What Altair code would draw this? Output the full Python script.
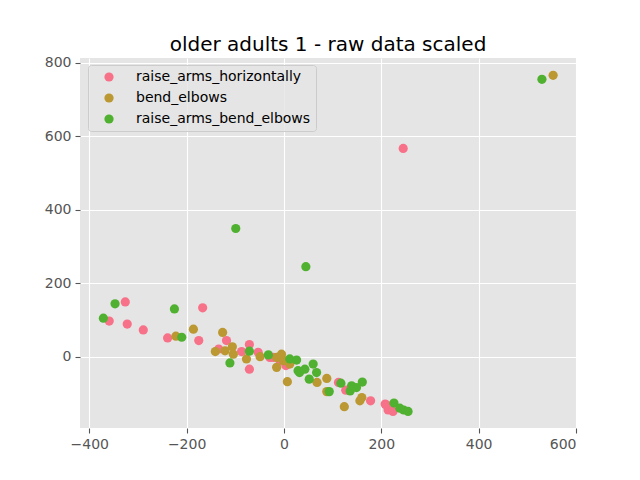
import pandas as pd
import altair as alt

# values
pink_x = [245, -359, -326, -322, -289, -239, -167, -175, -118, -134, -87, -71, -71, -53,
          -29, -22, -8, 4, 112, 127, 178, 208, 214, 224, 210]
pink_y = [567, 97, 149, 89, 73, 51, 133, 44, 44, 21, 14, 33, -34, 12,
          -2, -2, -11, -24, -70, -91, -120, -129, -145, -149, -131]

olive_x = [553, -222, -186, -126, -141, -121, -106, -104, -77, -49, -15, -15, -5, -1,
           6, 12, 7, 68, 88, 88, 124, 156, 160]
olive_y = [766, 56, 75, 66, 14, 16, 27, 7, -6, 0, -2, -29, 7, -11,
           -11, -20, -68, -70, -59, -95, -136, -120, -111]

green_x = [530, -99, 45, -371, -347, -225, -210, -111, -71, -32, 12, 26, 29, 32, 43, 60,
           67, 52, 117, 93, 136, 139, 149, 161, 226, 238, 246, 255]
green_y = [755, 349, 245, 105, 144, 130, 53, -17, 15, 5, -6, -9, -38, -43, -34, -20,
           -43, -61, -72, -95, -93, -79, -84, -69, -126, -140, -145, -149]

names = ['raise_arms_horizontally', 'bend_elbows', 'raise_arms_bend_elbows']
colors = ['#f77189', '#bb9832', '#50b131']

df = pd.concat([
    pd.DataFrame({'x': pink_x, 'y': pink_y, 'exercise': names[0]}),
    pd.DataFrame({'x': olive_x, 'y': olive_y, 'exercise': names[1]}),
    pd.DataFrame({'x': green_x, 'y': green_y, 'exercise': names[2]}),
], ignore_index=True)
df['order'] = df.index

minus = "replace(datum.label, '-', '\u2212')"

chart = alt.Chart(df).mark_circle(size=85, opacity=1).encode(
    x=alt.X('x:Q', title=None, scale=alt.Scale(domain=[-419, 600], nice=False, zero=False),
            axis=alt.Axis(values=[-400, -200, 0, 200, 400, 600], labelExpr=minus)),
    y=alt.Y('y:Q', title=None, scale=alt.Scale(domain=[-194, 813], nice=False, zero=False),
            axis=alt.Axis(values=[0, 200, 400, 600, 800], labelExpr=minus)),
    color=alt.Color('exercise:N', scale=alt.Scale(domain=names, range=colors),
                    sort=names,
                    legend=alt.Legend(title=None, orient='none', legendX=8, legendY=7)),
    order='order:Q',
).properties(
    width=496, height=370,
    title=alt.TitleParams('older adults 1 - raw data scaled', fontSize=20, font='DejaVu Sans',
                          fontWeight='normal', color='black', anchor='middle',
                          baseline='bottom', frame='group', offset=4, dy=23),
    autosize='none',
    padding={'left': 72, 'top': 50, 'right': 56, 'bottom': 45},
).configure_view(
    fill='#e5e5e5', stroke=None
).configure_axis(
    grid=True, gridColor='white', gridWidth=1.1, domain=False,
    tickColor='#555555', tickSize=5, tickWidth=1.1,
    labelColor='#555555', labelFont='DejaVu Sans', labelFontSize=14, labelPadding=4,
).configure_legend(
    labelFont='DejaVu Sans', labelFontSize=14, labelColor='black', labelLimit=0,
    symbolType='circle', symbolSize=85, symbolStrokeWidth=0, symbolOpacity=1,
    padding=5, rowPadding=7, symbolOffset=9, labelOffset=20,
    fillColor='rgba(229,229,229,0.8)', strokeColor='#cccccc', cornerRadius=3,
)

chart.save("out.html", embed_options={"renderer": "svg", "actions": False})
